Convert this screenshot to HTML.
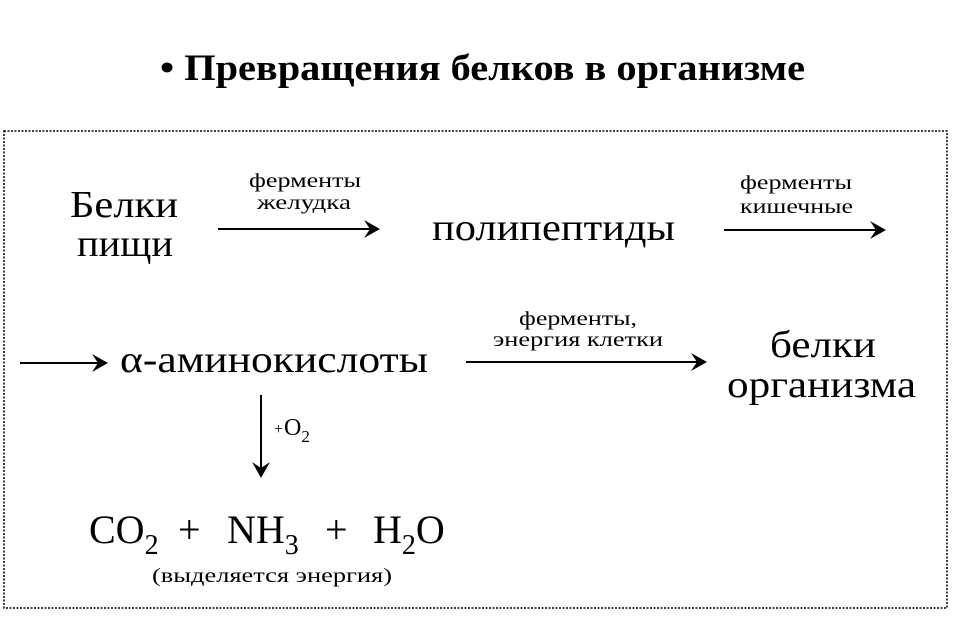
<!DOCTYPE html>
<html><head><meta charset="utf-8"><style>
html,body{margin:0;padding:0;background:#fff;width:964px;height:622px;overflow:hidden}
svg{display:block}
text{font-family:"Liberation Serif",serif;fill:#000}
</style></head><body>
<svg width="964" height="622" viewBox="0 0 964 622">
<text x="160" y="80" font-size="37" font-weight="bold" textLength="645" lengthAdjust="spacingAndGlyphs">• Превращения белков в организме</text>
<rect x="4" y="131" width="943" height="477" fill="none" stroke="#000" stroke-width="1.5" stroke-dasharray="2,1.5"/>
<text x="70" y="217" font-size="38" textLength="108" lengthAdjust="spacingAndGlyphs">Белки</text>
<text x="77" y="256" font-size="38" textLength="96" lengthAdjust="spacingAndGlyphs">пищи</text>
<text x="249" y="187" font-size="20" textLength="112" lengthAdjust="spacingAndGlyphs">ферменты</text>
<text x="257" y="209" font-size="20" textLength="94" lengthAdjust="spacingAndGlyphs">желудка</text>
<g stroke="#000" stroke-width="2" fill="none">
<line x1="218" y1="229" x2="372" y2="229"/>
<line x1="724" y1="230" x2="878" y2="230"/>
<line x1="20" y1="363" x2="100" y2="363"/>
<line x1="466" y1="362" x2="699" y2="362"/>
<line x1="261" y1="395" x2="261" y2="470"/>
</g>
<g fill="#000">
<polygon points="364,220 380,229 364,238 370,229"/>
<polygon points="870,221 886,230 870,239 876,230"/>
<polygon points="92,354 108,363 92,372 98,363"/>
<polygon points="691,353 707,362 691,371 697,362"/>
<polygon points="252,462 261,478 270,462 261,468"/>
</g>
<text x="432" y="240" font-size="38" textLength="243" lengthAdjust="spacingAndGlyphs">полипептиды</text>
<text x="740" y="189" font-size="20" textLength="112" lengthAdjust="spacingAndGlyphs">ферменты</text>
<text x="740" y="213" font-size="20" textLength="113" lengthAdjust="spacingAndGlyphs">кишечные</text>
<text x="120" y="372" font-size="38" textLength="308" lengthAdjust="spacingAndGlyphs">α-аминокислоты</text>
<text x="519" y="325" font-size="20" textLength="118" lengthAdjust="spacingAndGlyphs">ферменты,</text>
<text x="493" y="346" font-size="20" textLength="170" lengthAdjust="spacingAndGlyphs">энергия клетки</text>
<text x="770" y="357" font-size="38" textLength="106" lengthAdjust="spacingAndGlyphs">белки</text>
<text x="727" y="397" font-size="38" textLength="189" lengthAdjust="spacingAndGlyphs">организма</text>
<text x="274" y="434" font-size="16">+</text>
<text x="284" y="435" font-size="24">O<tspan font-size="17" dy="7">2</tspan></text>
<g font-size="40">
<text x="89" y="543">CO<tspan font-size="28" dy="11">2</tspan></text>
<text x="178" y="543">+</text>
<text x="227" y="543">NH<tspan font-size="28" dy="11">3</tspan></text>
<text x="325" y="543">+</text>
<text x="373" y="543">H<tspan font-size="28" dy="11">2</tspan><tspan dy="-11">O</tspan></text>
</g>
<text x="152" y="582" font-size="20" textLength="240" lengthAdjust="spacingAndGlyphs">(выделяется энергия)</text>
</svg>
</body></html>
